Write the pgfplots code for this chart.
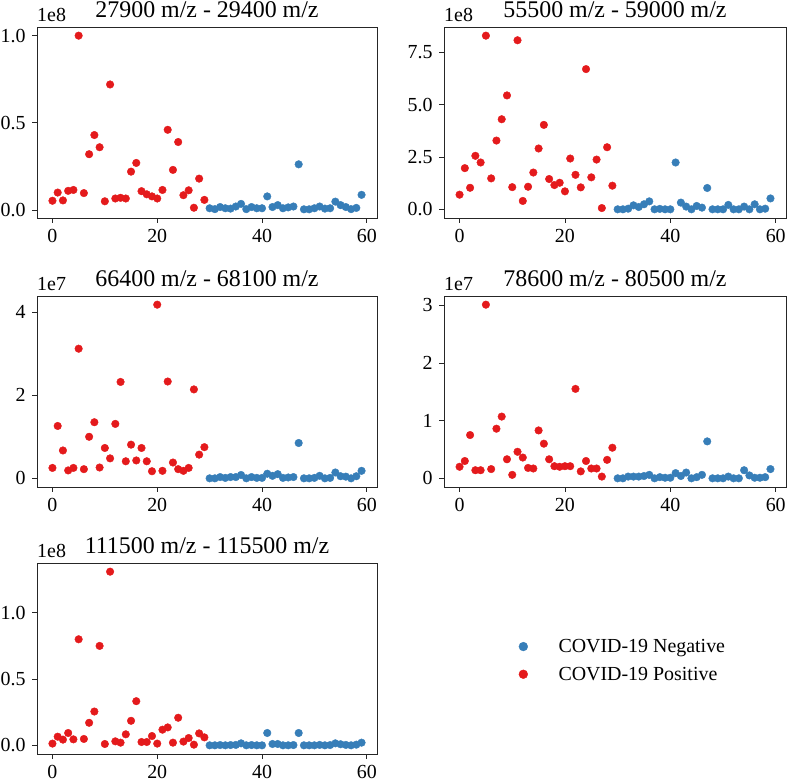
\documentclass[border=0pt]{standalone}
\usepackage{pgfplots}
\pgfplotsset{compat=1.18}
\usepackage{fontspec}
\setmainfont{Liberation Serif}
\definecolor{cred}{HTML}{E41A1C}
\definecolor{cblue}{HTML}{377EB8}
\tikzset{mult/.style={font=\fontsize{20}{24}\selectfont, anchor=base west, inner sep=0pt}}
\pgfplotsset{
  panel/.style={
    height=191bp, scale only axis,
    anchor=south west,
    xmin=-2.95, xmax=61.95,
    enlarge y limits=0.05,
    xtick={0,20,40,60},
    tick align=outside, xtick pos=bottom, ytick pos=left,
    major tick length=5bp,
    tick style={black!85, line width=0.8bp},
    axis line style={line width=0.8bp, black!85},
    tick label style={font=\fontsize{20}{24}\selectfont},
    xticklabel style={yshift=-3bp},
    yticklabel style={xshift=-3bp},
    /pgf/number format/assume math mode=true,
    title style={font=\fontsize{24}{28}\selectfont, at={(0.5,1)}, anchor=base, yshift=3.5bp},
    scaled y ticks=false,
    clip=false,
  },
  neg/.style={only marks, mark=*, mark size=3.8bp, color=cblue, mark options={draw=cblue, fill=cblue}},
  pos/.style={only marks, mark=*, mark size=3.8bp, color=cred, mark options={draw=cred, fill=cred}},
}
\begin{document}
\begin{tikzpicture}[x=1bp,y=1bp]
\path[use as bounding box] (0,0) rectangle (787,783);
% Panel 1
\begin{axis}[panel, width=340bp, at={(37bp,565bp)}, title={27900 m/z - 29400 m/z},
  ytick={0,0.5,1.0}, yticklabel style={/pgf/number format/.cd, fixed, fixed zerofill, precision=1}]
\addplot[neg] coordinates {(30,0.01)(31,0.005)(32,0.017)(33,0.01)(34,0.008)(35,0.02)(36,0.035)(37,0.005)(38,0.017)(39,0.01)(40,0.01)(41,0.078)(42,0.017)(43,0.028)(44,0.01)(45,0.015)(46,0.02)(47,0.262)(48,0.004)(49,0.004)(50,0.01)(51,0.02)(52,0.008)(53,0.01)(54,0.048)(55,0.028)(56,0.017)(57,0.005)(58,0.012)(59,0.087)};
\addplot[pos] coordinates {(0,0.053)(1,0.10)(2,0.055)(3,0.11)(4,0.115)(5,1.0)(6,0.097)(7,0.32)(8,0.43)(9,0.36)(10,0.05)(11,0.72)(12,0.066)(13,0.07)(14,0.066)(15,0.22)(16,0.27)(17,0.108)(18,0.09)(19,0.078)(20,0.066)(21,0.115)(22,0.46)(23,0.23)(24,0.39)(25,0.085)(26,0.113)(27,0.013)(28,0.18)(29,0.058)};
\node[mult] at (rel axis cs:0,1) [yshift=5bp] {1e8};
\end{axis}
% Panel 2
\begin{axis}[panel, width=342bp, at={(444bp,565bp)}, title={55500 m/z - 59000 m/z},
  ytick={0,2.5,5.0,7.5}, yticklabel style={/pgf/number format/.cd, fixed, fixed zerofill, precision=1}]
\addplot[neg] coordinates {(30,0.0)(31,0.0)(32,0.03)(33,0.19)(34,0.11)(35,0.24)(36,0.38)(37,0.0)(38,0.02)(39,0.0)(40,0.0)(41,2.24)(42,0.32)(43,0.13)(44,0.0)(45,0.16)(46,0.08)(47,1.02)(48,0.0)(49,0.0)(50,0.0)(51,0.21)(52,0.0)(53,0.0)(54,0.13)(55,0.0)(56,0.24)(57,0.0)(58,0.03)(59,0.52)};
\addplot[pos] coordinates {(0,0.70)(1,1.97)(2,1.03)(3,2.56)(4,2.24)(5,8.31)(6,1.48)(7,3.29)(8,4.31)(9,5.45)(10,1.06)(11,8.09)(12,0.40)(13,1.08)(14,1.76)(15,2.91)(16,4.04)(17,1.45)(18,1.16)(19,1.27)(20,0.86)(21,2.43)(22,1.65)(23,1.05)(24,6.71)(25,1.53)(26,2.38)(27,0.06)(28,2.97)(29,1.13)};
\node[mult] at (rel axis cs:0,1) [yshift=5bp] {1e8};
\end{axis}
% Panel 3
\begin{axis}[panel, width=340bp, at={(37bp,296bp)}, title={66400 m/z - 68100 m/z},
  ytick={0,2,4}]
\addplot[neg] coordinates {(30,0)(31,0)(32,0.03)(33,0.01)(34,0.03)(35,0.03)(36,0.08)(37,0)(38,0.03)(39,0.01)(40,0.01)(41,0.11)(42,0.06)(43,0.10)(44,0.01)(45,0.02)(46,0.03)(47,0.85)(48,0)(49,0)(50,0.01)(51,0.06)(52,0)(53,0.01)(54,0.14)(55,0.05)(56,0.04)(57,0)(58,0.05)(59,0.18)};
\addplot[pos] coordinates {(0,0.25)(1,1.26)(2,0.67)(3,0.19)(4,0.25)(5,3.12)(6,0.22)(7,1.00)(8,1.35)(9,0.26)(10,0.73)(11,0.48)(12,1.31)(13,2.32)(14,0.41)(15,0.81)(16,0.43)(17,0.73)(18,0.41)(19,0.17)(20,4.18)(21,0.18)(22,2.33)(23,0.38)(24,0.22)(25,0.18)(26,0.25)(27,2.14)(28,0.57)(29,0.75)};
\node[mult] at (rel axis cs:0,1) [yshift=5bp] {1e7};
\end{axis}
% Panel 4
\begin{axis}[panel, width=342bp, at={(444bp,296bp)}, title={78600 m/z - 80500 m/z},
  ytick={0,1,2,3}]
\addplot[neg] coordinates {(30,0)(31,0)(32,0.03)(33,0.03)(34,0.03)(35,0.04)(36,0.06)(37,0)(38,0.02)(39,0.01)(40,0.01)(41,0.09)(42,0.04)(43,0.10)(44,0)(45,0.02)(46,0.06)(47,0.64)(48,0)(49,0)(50,0)(51,0.03)(52,0)(53,0)(54,0.14)(55,0.05)(56,0.01)(57,0.01)(58,0.02)(59,0.16)};
\addplot[pos] coordinates {(0,0.20)(1,0.30)(2,0.75)(3,0.14)(4,0.14)(5,3.01)(6,0.16)(7,0.86)(8,1.07)(9,0.33)(10,0.06)(11,0.46)(12,0.36)(13,0.18)(14,0.17)(15,0.83)(16,0.60)(17,0.33)(18,0.21)(19,0.20)(20,0.21)(21,0.21)(22,1.55)(23,0.12)(24,0.30)(25,0.17)(26,0.17)(27,0.03)(28,0.32)(29,0.53)};
\node[mult] at (rel axis cs:0,1) [yshift=5bp] {1e7};
\end{axis}
% Panel 5
\begin{axis}[panel, width=340bp, at={(37bp,29bp)}, title={111500 m/z - 115500 m/z},
  ytick={0,0.5,1.0}, yticklabel style={/pgf/number format/.cd, fixed, fixed zerofill, precision=1},
  legend style={draw=none, fill=none, at={(1.388,0.49)}, anchor=west, font=\fontsize{20}{24}\selectfont, row sep=9bp, inner sep=0pt},
  legend cell align=left,
  legend image code/.code={\path (0bp,0bp) (47bp,0bp); \draw[#1, mark size=4.4bp] plot coordinates {(14bp,0bp)};}]
\addplot[neg] coordinates {(30,0)(31,0)(32,0.002)(33,0)(34,0.002)(35,0.003)(36,0.015)(37,0)(38,0.002)(39,0)(40,0)(41,0.093)(42,0.01)(43,0.01)(44,0)(45,0)(46,0.002)(47,0.093)(48,0)(49,0)(50,0)(51,0.003)(52,0)(53,0.002)(54,0.015)(55,0.008)(56,0.003)(57,0)(58,0.005)(59,0.02)};
\addlegendentry{COVID-19 Negative}
\addplot[pos] coordinates {(0,0.013)(1,0.065)(2,0.043)(3,0.093)(4,0.045)(5,0.80)(6,0.048)(7,0.17)(8,0.255)(9,0.75)(10,0.01)(11,1.31)(12,0.03)(13,0.02)(14,0.083)(15,0.185)(16,0.333)(17,0.025)(18,0.025)(19,0.07)(20,0.013)(21,0.118)(22,0.135)(23,0.02)(24,0.208)(25,0.028)(26,0.055)(27,0.005)(28,0.09)(29,0.06)};
\addlegendentry{COVID-19 Positive}
\node[mult] at (rel axis cs:0,1) [yshift=5bp] {1e8};
\end{axis}
\end{tikzpicture}
\end{document}
